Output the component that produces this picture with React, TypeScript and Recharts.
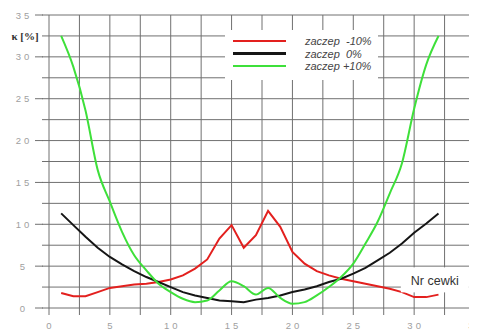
import React from 'react';
import { LineChart, Line, XAxis, YAxis, CartesianGrid, Legend, ReferenceDot } from 'recharts';

const coils = [1,2,3,4,5,6,7,8,9,10,11,12,13,14,15,16,17,18,19,20,21,22,23,24,25,26,27,28,29,30,31,32];
const tapMinus10 = [1.8,1.4,1.4,1.9,2.4,2.6,2.8,2.9,3.1,3.4,3.9,4.7,5.8,8.3,9.9,7.2,8.7,11.6,9.7,6.7,5.3,4.4,3.9,3.5,3.2,2.9,2.6,2.3,1.9,1.3,1.3,1.6];
const tapZero = [11.3,9.9,8.5,7.2,6.1,5.2,4.4,3.7,3.1,2.5,1.9,1.5,1.2,0.9,0.8,0.7,1.0,1.2,1.5,1.9,2.2,2.6,3.1,3.5,4.1,4.8,5.7,6.6,7.7,9.0,10.1,11.3];
const tapPlus10 = [32.5,28.8,23.6,16.5,12.7,9.1,6.3,4.5,2.9,1.9,1.1,0.7,0.9,2.1,3.2,2.6,1.6,2.4,1.2,0.5,0.7,1.5,2.5,3.7,5.3,7.7,10.3,13.7,17.3,23.8,29.1,32.5];

const xTicks = [0,2.5,5,7.5,10,12.5,15,17.5,20,22.5,25,27.5,30,32.5,35];
const yTicks = [0,2.5,5,7.5,10,12.5,15,17.5,20,22.5,25,27.5,30,32.5,35];
const yAxisTitle = 'κ [%]';
const xAxisTitle = 'Nr cewki';
const seriesNames = ['zaczep  -10%', 'zaczep  0%', 'zaczep +10%'];
const seriesColors = ['#e3201e', '#151515', '#3ee03a'];

const data = coils.map((c, i) => ({ x: c, m10: tapMinus10[i], z0: tapZero[i], p10: tapPlus10[i] }));

const M = { top: 15, right: 2, bottom: 0, left: 0 };
const gridColor = '#707070';
const labelColor = '#a0a0a0';
const TICK_OFF = 8; // tickSize (7) + tickMargin (1)

const XTick = (props: any) => {
  const { x, y, payload } = props;
  const v = payload.value;
  const major = v % 5 === 0;
  const y0 = y - TICK_OFF;
  return (
    <g>
      {major && (
        <text x={x + 1.5} y={y0 + 21} textAnchor="middle" fill={labelColor} fontSize={9.5} letterSpacing={3}
          fontFamily="Liberation Sans, Arial, sans-serif">{v}</text>
      )}
    </g>
  );
};

const YTick = (props: any) => {
  const { x, y, payload } = props;
  const v = payload.value;
  const major = v % 5 === 0;
  const x0 = x + TICK_OFF;
  return (
    <g>
      {major && <line x1={x0 - 14} x2={x0 - 6} y1={y} y2={y} stroke={gridColor} strokeWidth={1} />}
      {major && (
        <text x={x0 - 25} y={y + 3.5} textAnchor="middle" fill={labelColor} fontSize={9.5} letterSpacing={3}
          fontFamily="Liberation Sans, Arial, sans-serif">{v}</text>
      )}
      {v === 32.5 && (
        <text x={x0 - 24} y={y + 4} textAnchor="middle" fill="#333" fontSize={11} fontWeight="bold"
          fontFamily="Liberation Serif, Times New Roman, serif">{yAxisTitle}</text>
      )}
    </g>
  );
};

const LegendBox = () => (
  <div style={{ background: '#fff', width: 153, height: 50, position: 'relative' }}>
    {seriesNames.map((n, i) => (
      <div key={n} style={{ position: 'absolute', left: 8, top: 5 + i * 12.5, height: 12, display: 'flex', alignItems: 'center' }}>
        <div style={{ width: 53, height: 2.5, background: seriesColors[i] }} />
        <span style={{ marginLeft: 19, fontFamily: 'Liberation Sans, Arial, sans-serif', fontStyle: 'italic', fontSize: 11, color: '#444', whiteSpace: 'pre', lineHeight: '12px' }}>{n}</span>
      </div>
    ))}
  </div>
);

const NrLabel = (props: any) => {
  const { cx, cy } = props;
  return (
    <g>
      <rect x={cx - 34} y={cy - 13} width={68} height={25} fill="#fff" />
      <text x={cx - 24} y={cy + 4.5} fill="#333" fontSize={12.5} fontFamily="Liberation Sans, Arial, sans-serif">{xAxisTitle}</text>
    </g>
  );
};

export default function App() {
  return (
    <div style={{ marginLeft: -8, marginTop: -8 }}>
      <LineChart width={477} height={331} data={data} margin={M}>
        <CartesianGrid stroke={gridColor} strokeWidth={1} />
        <XAxis type="number" dataKey="x" domain={[0, 35]} ticks={xTicks} interval={0} height={23}
          axisLine={false} tickLine={{ stroke: gridColor, strokeWidth: 1 }} tickSize={7} tickMargin={1} tick={<XTick />} />
        <YAxis type="number" domain={[0, 35]} ticks={yTicks} interval={0} width={49}
          axisLine={false} tickLine={{ stroke: gridColor, strokeWidth: 1 }} tickSize={7} tickMargin={1} tick={<YTick />} />
        <Line type="linear" dataKey="m10" name={seriesNames[0]} stroke={seriesColors[0]} strokeWidth={2} dot={false} isAnimationActive={false} />
        <Line type="linear" dataKey="z0" name={seriesNames[1]} stroke={seriesColors[1]} strokeWidth={2} dot={false} isAnimationActive={false} />
        <Line type="monotone" dataKey="p10" name={seriesNames[2]} stroke={seriesColors[2]} strokeWidth={2} dot={false} isAnimationActive={false} />
        <ReferenceDot x={31.7} y={3.3} r={0} shape={<NrLabel />} />
        <Legend layout="horizontal" verticalAlign="middle" align="center" content={<LegendBox />}
          wrapperStyle={{ position: 'absolute', left: 225, top: 30, width: 153, height: 50, right: 'auto', bottom: 'auto' }} />
      </LineChart>
    </div>
  );
}
